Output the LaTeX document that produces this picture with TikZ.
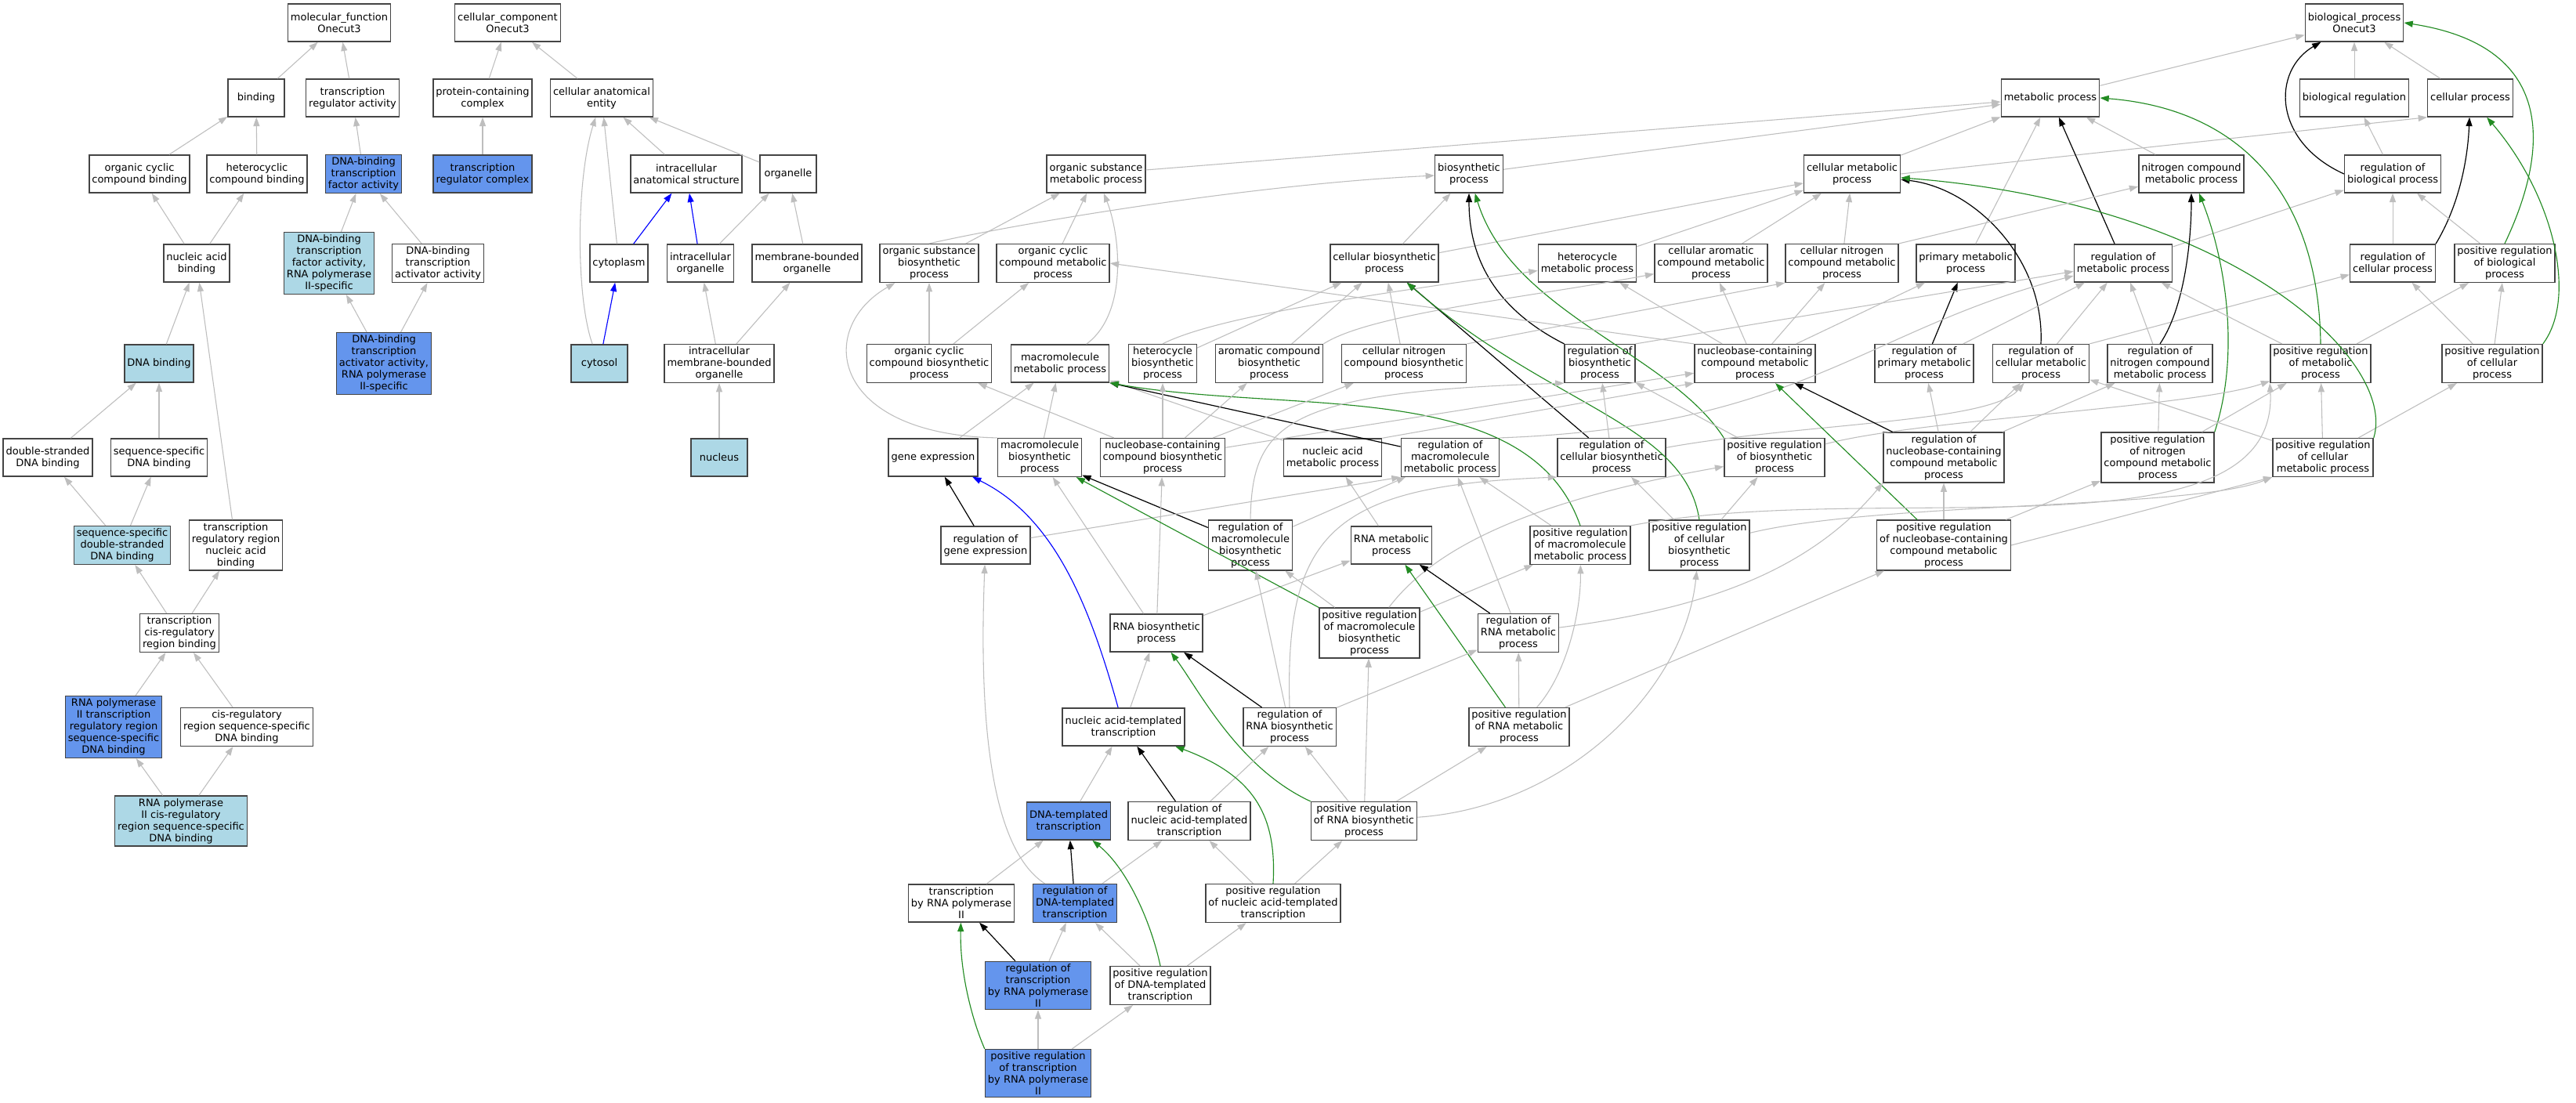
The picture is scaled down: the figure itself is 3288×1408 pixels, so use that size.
\documentclass[tikz,border=0pt]{standalone}
\usepackage{fontspec}
\setmainfont{DejaVu Sans}
\usetikzlibrary{arrows.meta}

\begin{document}
\begin{tikzpicture}[x=0.75pt,y=0.75pt,yscale=-1,xscale=1,
  box/.style={draw={rgb,255:red,68;green,68;blue,68}, line width=1.1pt, fill=white, align=center,
    font=\fontsize{9.75}{11.25}\selectfont, inner xsep=2.6pt, inner ysep=2.3pt,
    minimum width=54pt, minimum height=36pt},
  lbox/.style={box, fill={rgb,255:red,173;green,216;blue,230}},
  dbox/.style={box, fill={rgb,255:red,100;green,149;blue,237}},
  isa/.style={draw={rgb,255:red,190;green,190;blue,190}, line width=0.8pt, -{Triangle[length=8.5pt,width=6pt]}},
  regl/.style={isa, draw=black, line width=0.9pt},
  posl/.style={isa, draw={rgb,255:red,34;green,139;blue,34}, line width=0.85pt},
  partl/.style={isa, draw={rgb,255:red,0;green,0;blue,255}, line width=0.85pt}]
%set diagram size: 3288 x 1408
\fill[white] (0,0) rectangle (3288,1408);
\useasboundingbox (0,0) rectangle (3288,1408);

% Text Node: molecular function
\node[box] (mf) at (433,29) {molecular\_function\\Onecut3};
\node[box] (bind) at (327,125) {binding};
\node[box] (tra) at (450,125) {transcription\\regulator activity};
\node[box] (occb) at (178,222) {organic cyclic\\compound binding};
\node[box] (hcb) at (328,222) {heterocyclic\\compound binding};
\node[dbox] (dbtf) at (464,222) {DNA-binding\\transcription\\factor activity};
\node[box] (nab) at (251,336) {nucleic acid\\binding};
\node[lbox] (dbtf2) at (420,336) {DNA-binding\\transcription\\factor activity,\\RNA polymerase\\II-specific};
\node[box] (dbta) at (559,336) {DNA-binding\\transcription\\activator activity};
\node[lbox] (dnab) at (203,464) {DNA binding};
\node[dbox] (dbta2) at (490,464) {DNA-binding\\transcription\\activator activity,\\RNA polymerase\\II-specific};
\node[box] (dsdb) at (61,584) {double-stranded\\DNA binding};
\node[box] (ssdb) at (203,584) {sequence-specific\\DNA binding};
\node[lbox] (ssds) at (156,696) {sequence-specific\\double-stranded\\DNA binding};
\node[box] (trrnab) at (301,696) {transcription\\regulatory region\\nucleic acid\\binding};
\node[box] (tcrb) at (229,808) {transcription\\cis-regulatory\\region binding};
\node[dbox] (p2trr) at (145,928) {RNA polymerase\\II transcription\\regulatory region\\sequence-specific\\DNA binding};
\node[box] (crssdb) at (315,928) {cis-regulatory\\region sequence-specific\\DNA binding};
\node[lbox] (p2crs) at (231,1048) {RNA polymerase\\II cis-regulatory\\region sequence-specific\\DNA binding};

% Text Node: cellular component
\node[box] (cc) at (648,29) {cellular\_component\\Onecut3};
\node[box] (pcc) at (616,125) {protein-containing\\complex};
\node[box] (cae) at (768,125) {cellular anatomical\\entity};
\node[dbox] (trc) at (616,222) {transcription\\regulator complex};
\node[box] (ias) at (876,222) {intracellular\\anatomical structure};
\node[box] (orgl) at (1006,222) {organelle};
\node[box] (cyto) at (790,336) {cytoplasm};
\node[box] (io) at (894,336) {intracellular\\organelle};
\node[box] (mbo) at (1030,336) {membrane-bounded\\organelle};
\node[lbox] (cytosol) at (765,464) {cytosol};
\node[box] (imbo) at (918,464) {intracellular\\membrane-bounded\\organelle};
\node[lbox] (nucl) at (918,584) {nucleus};

% Text Node: biological process
\node[box] (bproc) at (3005,29) {biological\_process\\Onecut3};
\node[box] (metp) at (2617,125) {metabolic process};
\node[box] (bioreg) at (3005,125) {biological regulation};
\node[box] (cellp) at (3153,125) {cellular process};
\node[box] (osmet) at (1399,222) {organic substance\\metabolic process};
\node[box] (biosyn) at (1875,222) {biosynthetic\\process};
\node[box] (cellmet) at (2364,222) {cellular metabolic\\process};
\node[box] (nitmet) at (2797,222) {nitrogen compound\\metabolic process};
\node[box] (regbio) at (3054,222) {regulation of\\biological process};
\node[box] (osbio) at (1186,336) {organic substance\\biosynthetic\\process};
\node[box] (ocmet) at (1344,336) {organic cyclic\\compound metabolic\\process};
\node[box] (cellbio) at (1767,336) {cellular biosynthetic\\process};
\node[box] (hetmet) at (2026,336) {heterocycle\\metabolic process};
\node[box] (camet) at (2184,336) {cellular aromatic\\compound metabolic\\process};
\node[box] (cnmet) at (2351,336) {cellular nitrogen\\compound metabolic\\process};
\node[box] (primet) at (2509,336) {primary metabolic\\process};
\node[box] (regmet) at (2710,336) {regulation of\\metabolic process};
\node[box] (regcell) at (3054,336) {regulation of\\cellular process};
\node[box] (pregbio) at (3197,336) {positive regulation\\of biological\\process};
\node[box] (ocbio) at (1186,464) {organic cyclic\\compound biosynthetic\\process};
\node[box] (macmet) at (1353,464) {macromolecule\\metabolic process};
\node[box] (hetbio) at (1484,464) {heterocycle\\biosynthetic\\process};
\node[box] (arobio) at (1620,464) {aromatic compound\\biosynthetic\\process};
\node[box] (cnbio) at (1792,464) {cellular nitrogen\\compound biosynthetic\\process};
\node[box] (regbsyn) at (2042,464) {regulation of\\biosynthetic\\process};
\node[box] (nbmet) at (2240,464) {nucleobase-containing\\compound metabolic\\process};
\node[box] (regprim) at (2456,464) {regulation of\\primary metabolic\\process};
\node[box] (regcmet) at (2605,464) {regulation of\\cellular metabolic\\process};
\node[box] (regnit) at (2757,464) {regulation of\\nitrogen compound\\metabolic process};
\node[box] (pregmet) at (2962,464) {positive regulation\\of metabolic\\process};
\node[box] (pregcell) at (3181,464) {positive regulation\\of cellular\\process};
\node[box] (genex) at (1191,584) {gene expression};
\node[box] (macbio) at (1327,584) {macromolecule\\biosynthetic\\process};
\node[box] (nbbio) at (1484,584) {nucleobase-containing\\compound biosynthetic\\process};
\node[box] (namet) at (1701,584) {nucleic acid\\metabolic process};
\node[box] (regmac) at (1851,584) {regulation of\\macromolecule\\metabolic process};
\node[box] (regcbio) at (2057,584) {regulation of\\cellular biosynthetic\\process};
\node[box] (pregbsyn) at (2265,584) {positive regulation\\of biosynthetic\\process};
\node[box] (regnb) at (2481,584) {regulation of\\nucleobase-containing\\compound metabolic\\process};
\node[box] (pregnit) at (2754,584) {positive regulation\\of nitrogen\\compound metabolic\\process};
\node[box] (pregcmet) at (2965,584) {positive regulation\\of cellular\\metabolic process};
\node[box] (reggex) at (1258,696) {regulation of\\gene expression};
\node[box] (regmbio) at (1596,696) {regulation of\\macromolecule\\biosynthetic\\process};
\node[box] (rnamet) at (1776,696) {RNA metabolic\\process};
\node[box] (pregmac) at (2017,696) {positive regulation\\of macromolecule\\metabolic process};
\node[box] (pregcbio) at (2169,696) {positive regulation\\of cellular\\biosynthetic\\process};
\node[box] (pregnb) at (2481,696) {positive regulation\\of nucleobase-containing\\compound metabolic\\process};
\node[box] (rnabio) at (1476,808) {RNA biosynthetic\\process};
\node[box] (pregmbio) at (1748,808) {positive regulation\\of macromolecule\\biosynthetic\\process};
\node[box] (regrnam) at (1938,808) {regulation of\\RNA metabolic\\process};
\node[box] (natt) at (1434,928) {nucleic acid-templated\\transcription};
\node[box] (regrnab) at (1646,928) {regulation of\\RNA biosynthetic\\process};
\node[box] (pregrnam) at (1939,928) {positive regulation\\of RNA metabolic\\process};
\node[dbox] (dtt) at (1364,1048) {DNA-templated\\transcription};
\node[box] (regnatt) at (1518,1048) {regulation of\\nucleic acid-templated\\transcription};
\node[box] (pregrnab) at (1741,1048) {positive regulation\\of RNA biosynthetic\\process};
\node[box] (trpol) at (1227,1153) {transcription\\by RNA polymerase\\II};
\node[dbox] (regdtt) at (1372,1153) {regulation of\\DNA-templated\\transcription};
\node[box] (pregnatt) at (1625,1153) {positive regulation\\of nucleic acid-templated\\transcription};
\node[dbox] (regtrpol) at (1325,1258) {regulation of\\transcription\\by RNA polymerase\\II};
\node[box] (pregdtt) at (1481,1258) {positive regulation\\of DNA-templated\\transcription};
\node[dbox] (pregtrpol) at (1325,1370) {positive regulation\\of transcription\\by RNA polymerase\\II};

%Straight Lines: molecular function
\draw[isa] (bind) -- (mf);
\draw[isa] (tra) -- (mf);
\draw[isa] (occb) -- (bind);
\draw[isa] (hcb) -- (bind);
\draw[isa] (dbtf) -- (tra);
\draw[isa] (nab) -- (occb);
\draw[isa] (nab) -- (hcb);
\draw[isa] (dbtf2) -- (dbtf);
\draw[isa] (dbta) -- (dbtf);
\draw[isa] (dbta2) -- (dbtf2);
\draw[isa] (dbta2) -- (dbta);
\draw[isa] (dnab) -- (nab);
\draw[isa] (trrnab) -- (nab);
\draw[isa] (dsdb) -- (dnab);
\draw[isa] (ssdb) -- (dnab);
\draw[isa] (ssds) -- (dsdb);
\draw[isa] (ssds) -- (ssdb);
\draw[isa] (tcrb) -- (ssds);
\draw[isa] (tcrb) -- (trrnab);
\draw[isa] (p2trr) -- (tcrb);
\draw[isa] (crssdb) -- (tcrb);
\draw[isa] (p2crs) -- (p2trr);
\draw[isa] (p2crs) -- (crssdb);

%Straight Lines: cellular component
\draw[isa] (pcc) -- (cc);
\draw[isa] (cae) -- (cc);
\draw[isa] (trc) -- (pcc);
\draw[isa] (ias) -- (cae);
\draw[isa] (orgl) -- (cae);
\draw[isa] (cyto) -- (cae);
\draw[isa] (cytosol) .. controls (735,380) and (735,230) .. (cae);
\draw[partl] (cyto) -- (ias);
\draw[partl] (io) -- (ias);
\draw[isa] (io) -- (orgl);
\draw[isa] (mbo) -- (orgl);
\draw[partl] (cytosol) -- (cyto);
\draw[isa] (imbo) -- (io);
\draw[isa] (imbo) -- (mbo);
\draw[isa] (nucl) -- (imbo);

%Straight Lines: biological process, top rows
\draw[isa] (metp) -- (bproc);
\draw[isa] (bioreg) -- (bproc);
\draw[isa] (cellp) -- (bproc);
\draw[regl] (regbio.west) .. controls (2900,180) and (2900,90) .. (bproc);
\draw[posl] (pregbio.north) .. controls (3250,200) and (3270,60) .. (bproc.east);
\draw[isa] (regbio) -- (bioreg);
\draw[isa] (cellmet.east) -- (cellp.south west);
\draw[regl] (regcell.north east) .. controls (3140,260) and (3150,200) .. (cellp);
\draw[posl] (pregcell.north east) .. controls (3290,380) and (3260,250) .. (cellp);
\draw[isa] (regmet) -- (regbio);
\draw[isa] (regcell) -- (regbio);
\draw[isa] (pregbio) -- (regbio);
\draw[isa] (regcmet.north east) -- (regcell);
\draw[isa] (pregcell) -- (regcell);
\draw[isa] (pregmet) -- (pregbio);
\draw[isa] (pregcell) -- (pregbio);
\draw[isa] (pregcmet) -- (pregcell);
\draw[isa] (osmet) -- (metp);
\draw[isa] (biosyn) -- (metp);
\draw[isa] (cellmet) -- (metp);
\draw[isa] (primet) -- (metp);
\draw[regl] (regmet) -- (metp);
\draw[isa] (nitmet) -- (metp);
\draw[posl] (pregmet.north) .. controls (2960,260) and (2870,140) .. (metp.east);
\draw[isa] (cellbio) -- (cellmet);
\draw[isa] (hetmet) -- (cellmet);
\draw[isa] (camet) -- (cellmet);
\draw[isa] (cnmet) -- (cellmet);
\draw[regl] (regcmet.north) .. controls (2610,330) and (2520,240) .. (cellmet);
\draw[posl] (pregcmet.north east) .. controls (3060,460) and (2850,260) .. (cellmet);
\draw[isa] (cnmet.north east) -- (nitmet);
\draw[regl] (regnit.north) .. controls (2790,390) and (2797,300) .. (nitmet);
\draw[posl] (pregnit.north east) .. controls (2860,450) and (2840,330) .. (nitmet);

%Straight Lines: metabolic and biosynthetic processes
\draw[isa] (osbio) -- (osmet);
\draw[isa] (ocmet) -- (osmet);
\draw[isa] (macmet) .. controls (1440,400) and (1430,300) .. (osmet);
\draw[isa] (osbio.north) .. controls (1300,285) and (1600,235) .. (biosyn);
\draw[isa] (cellbio) -- (biosyn);
\draw[regl] (regbsyn.north west) .. controls (1900,390) and (1875,320) .. (biosyn);
\draw[posl] (pregbsyn.north west) .. controls (2130,450) and (1930,400) .. (biosyn);
\draw[isa] (ocbio) -- (osbio);
\draw[isa] (macbio.north west) .. controls (1060,555) and (1040,420) .. (osbio);
\draw[isa] (ocbio) -- (ocmet);
\draw[isa] (nbmet.north west) -- (ocmet.east);
\draw[isa] (macbio) -- (macmet);
\draw[isa] (hetbio) -- (cellbio);
\draw[isa] (hetbio.north) .. controls (1560,400) and (1800,370) .. (hetmet);
\draw[isa] (arobio) -- (cellbio);
\draw[isa] (arobio.north east) .. controls (1750,400) and (1950,380) .. (camet);
\draw[isa] (cnbio) -- (cellbio);
\draw[isa] (cnbio.north east) -- (cnmet.south west);
\draw[regl] (regcbio) -- (cellbio);
\draw[posl] (pregcbio.north) .. controls (2150,540) and (1980,520) .. (cellbio);
\draw[isa] (nbmet) -- (hetmet);
\draw[isa] (nbmet) -- (camet);
\draw[isa] (nbmet) -- (cnmet);
\draw[isa] (nbmet) -- (primet);
\draw[regl] (regprim) -- (primet);
\draw[isa] (regprim) -- (regmet);
\draw[isa] (regcmet) -- (regmet);
\draw[isa] (regnit) -- (regmet);
\draw[isa] (pregmet) -- (regmet);
\draw[isa] (regbsyn.north east) -- (regmet);
\draw[isa] (regmac.north east) .. controls (2300,545) and (2380,420) .. (regmet);
\draw[isa] (genex) -- (macmet);
\draw[isa] (namet) -- (macmet);
\draw[isa] (namet.north east) -- (nbmet.south west);
\draw[regl] (regmac) -- (macmet.south east);
\draw[posl] (pregmac.north) .. controls (1950,480) and (1650,530) .. (macmet.south east);
\draw[isa] (nbbio) -- (ocbio);
\draw[isa] (nbbio) -- (hetbio);
\draw[isa] (nbbio) -- (arobio);
\draw[isa] (nbbio) -- (cnbio);
\draw[isa] (nbbio) -- (nbmet);

%Straight Lines: regulation
\draw[isa] (regcbio) -- (regbsyn);
\draw[isa] (regcbio) .. controls (2300,540) and (2540,540) .. (regcmet);
\draw[isa] (pregbsyn) -- (regbsyn);
\draw[isa] (pregbsyn) .. controls (2450,535) and (2800,520) .. (pregmet);
\draw[isa] (regmbio.north) .. controls (1598,540) and (1640,500) .. (regbsyn.south west);
\draw[regl] (regmbio) -- (macbio);
\draw[isa] (regmbio) -- (regmac);
\draw[regl] (regnb) -- (nbmet);
\draw[isa] (regnb) -- (regprim);
\draw[isa] (regnb) -- (regcmet);
\draw[isa] (regnb) -- (regnit);
\draw[isa] (pregnit) -- (regnit);
\draw[isa] (pregnit) -- (pregmet);
\draw[isa] (pregcmet) -- (regcmet);
\draw[isa] (pregcmet) -- (pregmet);
\draw[posl] (pregnb) -- (nbmet);
\draw[isa] (pregnb) -- (regnb);
\draw[isa] (pregnb) -- (pregnit);
\draw[isa] (pregnb.east) -- (pregcmet.south west);
\draw[regl] (reggex) -- (genex);
\draw[isa] (reggex) -- (regmac.south west);
\draw[isa] (rnabio) -- (macbio);
\draw[isa] (rnabio) -- (nbbio);
\draw[isa] (rnabio) -- (rnamet);
\draw[posl] (pregmbio.north west) -- (macbio);
\draw[isa] (pregmbio) -- (regmbio);
\draw[isa] (pregmbio) .. controls (1830,700) and (1950,640) .. (pregbsyn);
\draw[isa] (pregmbio) -- (pregmac);
\draw[isa] (rnamet) -- (namet);
\draw[regl] (regrnam) -- (rnamet);
\draw[isa] (regrnam) -- (regmac);
\draw[isa] (regrnam) .. controls (2150,780) and (2300,740) .. (regnb.south west);
\draw[isa] (pregmac) -- (regmac);
\draw[isa] (pregmac.north east) .. controls (2400,610) and (2910,720) .. (pregmet.south west);
\draw[isa] (pregcbio) -- (regcbio);
\draw[isa] (pregcbio) -- (pregbsyn);
\draw[isa] (pregcbio) .. controls (2400,640) and (2800,650) .. (pregcmet.south west);
\draw[posl] (pregrnam) -- (rnamet);
\draw[isa] (pregrnam) -- (regrnam);
\draw[isa] (pregrnam) .. controls (2000,860) and (2018,780) .. (pregmac);
\draw[isa] (pregrnam) -- (pregnb);

%Straight Lines: transcription
\draw[isa] (natt) -- (rnabio);
\draw[partl] (natt) .. controls (1390,770) and (1345,660) .. (genex);
\draw[regl] (regrnab) -- (rnabio);
\draw[isa] (regrnab) -- (regmbio);
\draw[isa] (regrnab.north) .. controls (1640,680) and (1700,620) .. (regcbio.south west);
\draw[isa] (regrnab) -- (regrnam);
\draw[posl] (pregrnab.north west) .. controls (1580,980) and (1530,880) .. (rnabio);
\draw[isa] (pregrnab) -- (regrnab);
\draw[isa] (pregrnab) -- (pregmbio);
\draw[isa] (pregrnab) -- (pregrnam);
\draw[isa] (pregrnab) .. controls (2000,1030) and (2150,880) .. (pregcbio);
\draw[isa] (dtt) -- (natt);
\draw[regl] (regnatt) -- (natt);
\draw[isa] (regnatt) -- (regrnab);
\draw[posl] (pregnatt.north) .. controls (1630,1040) and (1600,990) .. (natt);
\draw[isa] (pregnatt) -- (regnatt);
\draw[isa] (pregnatt) -- (pregrnab);
\draw[isa] (trpol) -- (dtt);
\draw[regl] (regdtt) -- (dtt);
\draw[isa] (regdtt) -- (regnatt);
\draw[isa] (regdtt) .. controls (1260,1080) and (1250,900) .. (reggex);
\draw[posl] (pregdtt.north) .. controls (1470,1180) and (1440,1110) .. (dtt);
\draw[isa] (pregdtt) -- (regdtt);
\draw[isa] (pregdtt) -- (pregnatt);
\draw[regl] (regtrpol) -- (trpol);
\draw[isa] (regtrpol) -- (regdtt);
\draw[posl] (pregtrpol.north west) .. controls (1240,1300) and (1225,1240) .. (trpol);
\draw[isa] (pregtrpol) -- (regtrpol);
\draw[isa] (pregtrpol) -- (pregdtt);

\end{tikzpicture}
\end{document}
